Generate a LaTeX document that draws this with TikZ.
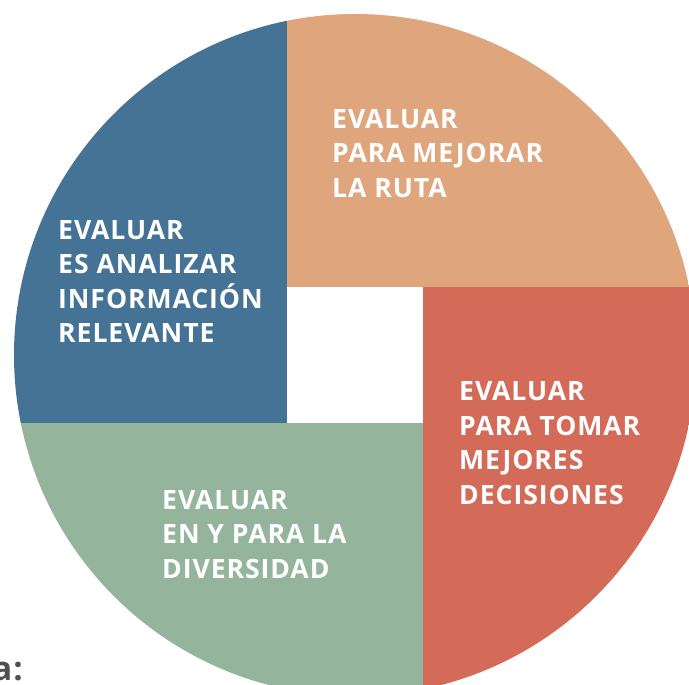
\documentclass[tikz,border=0pt]{standalone}
\usepackage{fontspec}
\setmainfont{Open Sans}[LetterSpace=3.5]
\definecolor{cblue}{RGB}{69,115,149}
\definecolor{ctan}{RGB}{223,166,126}
\definecolor{cred}{RGB}{212,107,89}
\definecolor{cgreen}{RGB}{148,180,156}
\definecolor{cgrey}{RGB}{80,80,80}
\begin{document}
\begin{tikzpicture}[x=1pt,y=-1pt,
  lbl/.style={anchor=north west,inner sep=0pt,align=left,text=white,
    font=\fontsize{26.6}{34.5}\selectfont\bfseries}]
\useasboundingbox (0,0) rectangle (689,685);
\begin{scope}
\clip (355,355) circle [radius=341pt];
\fill[ctan] (286.5,0) rectangle (720,286.5);
\fill[cred] (423,286.5) rectangle (720,720);
\fill[cgreen] (0,423) rectangle (423,720);
\fill[cblue] (0,0) rectangle (286.5,423);
\end{scope}
\node[lbl] (t1) at (332,109) {EVALUAR\\PARA MEJORAR\\LA RUTA};
\node[lbl] (t2) at (58,220) {EVALUAR\\ES ANALIZAR\\INFORMACIÓN\\RELEVANTE};
\node[lbl] (t3) at (459,381.5) {EVALUAR\\PARA TOMAR\\MEJORES\\DECISIONES};
\node[lbl] (t4) at (162,490) {EVALUAR\\EN Y PARA LA\\DIVERSIDAD};
\node[anchor=base east,inner sep=0pt,text=cgrey,font=\fontsize{33}{33}\selectfont\bfseries] (a) at (23,680) {a:};
\end{tikzpicture}
\end{document}
